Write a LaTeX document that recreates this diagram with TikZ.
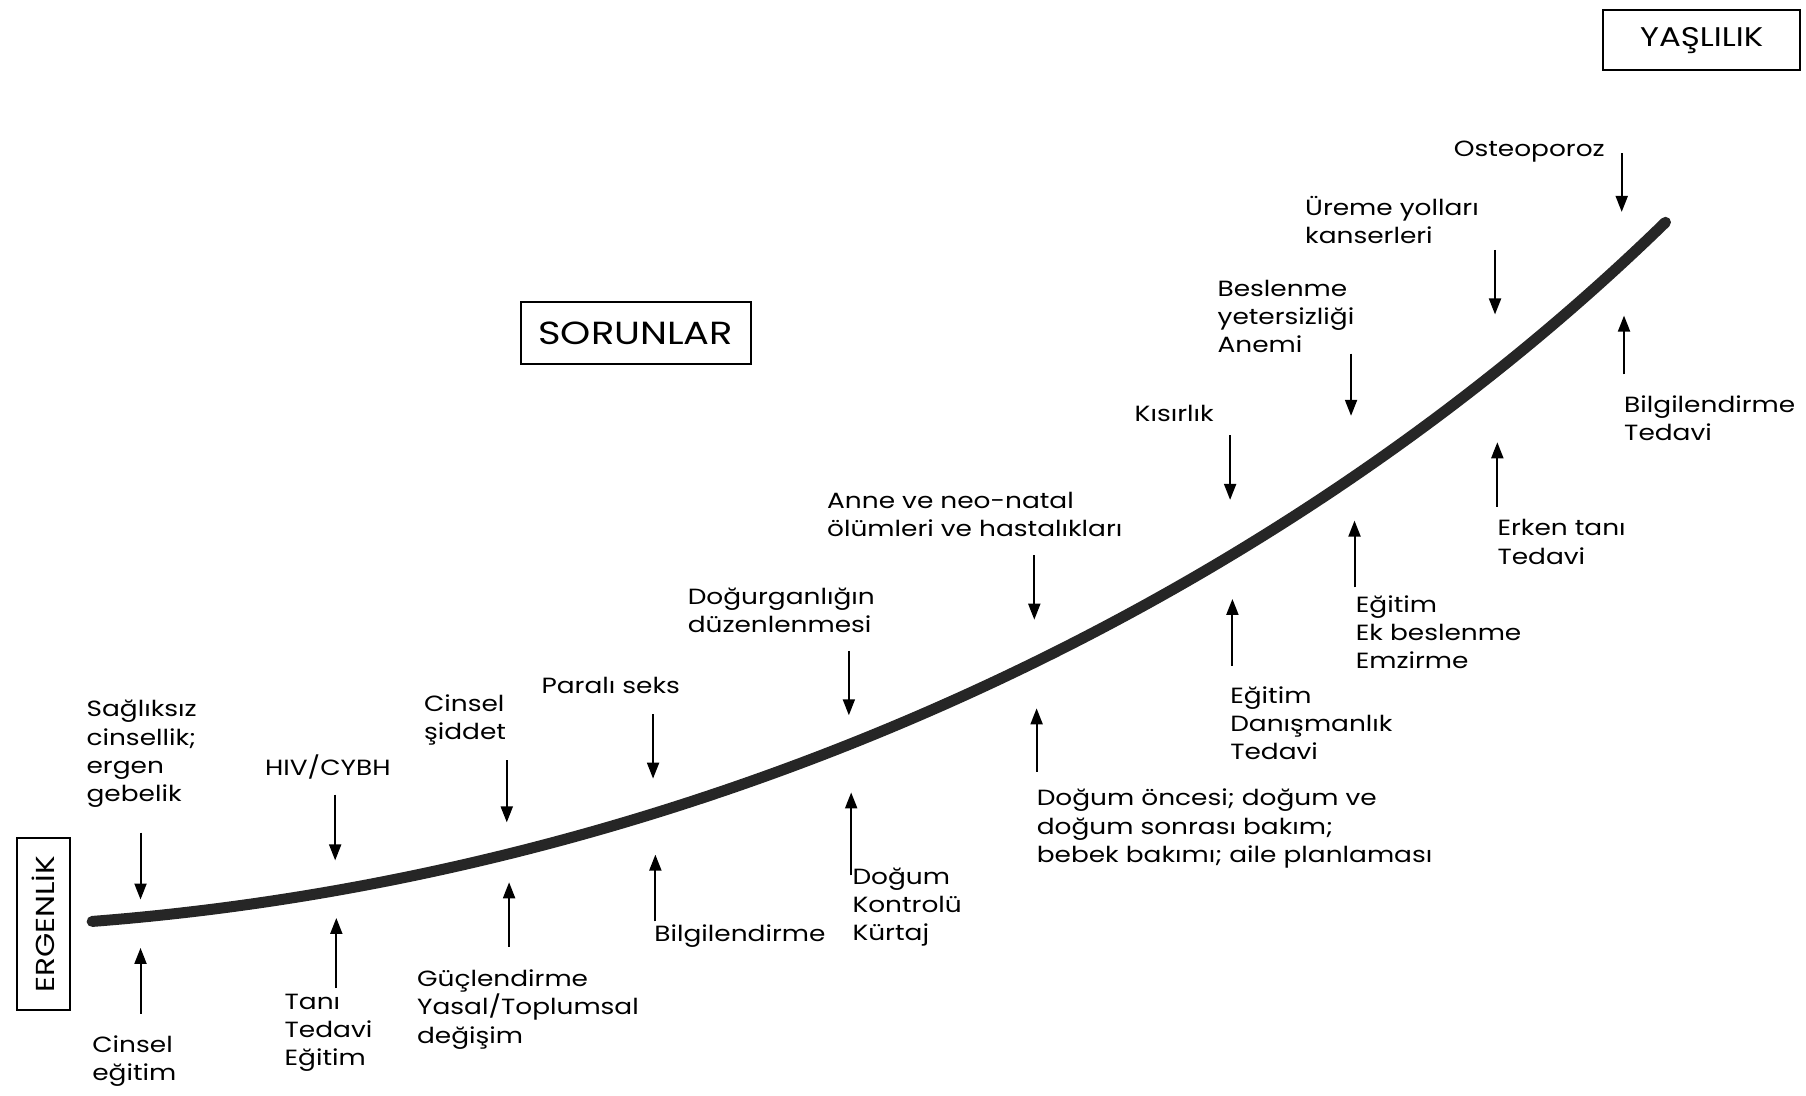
\documentclass[tikz,border=0pt]{standalone}
\usepackage{fontspec}
\setmainfont{Poppins}[FakeStretch=1.2]
\usetikzlibrary{arrows.meta}
\begin{document}
\begin{tikzpicture}[x=1.1518pt,y=-1.1518pt,
  lbl/.style={anchor=north west, inner sep=0pt, align=left, font=\fontsize{22}{28.2}\selectfont},
  arr/.style={line width=2pt, -{Triangle[length=16pt,width=12pt]}},
  boxed/.style={draw, line width=2pt, inner sep=0pt}]
\useasboundingbox (0,0) rectangle (1568,951);
\fill[white] (0,0) rectangle (1568,951);

% boxes
\node[boxed, minimum width=53pt, minimum height=172pt] (ergen) at (38,802.5) {};
\node[rotate=90, font=\fontsize{26}{26}\selectfont, inner sep=0pt] (ergenT) at (ergen.center) {ERGENLİK};
\node[boxed, minimum width=230pt, minimum height=62pt, font=\fontsize{32}{32}\selectfont] (sorun) at (552,289) {SORUNLAR};
\node[boxed, minimum width=197pt, minimum height=60pt, font=\fontsize{27}{27}\selectfont] (yasli) at (1477.5,35) {YAŞLILIK};

% curve
\draw[line width=11pt, black!85, line cap=round]
  (80,800) .. controls (600,760) and (1100,530) .. (1446,193);

% top labels (problems)
\node[lbl] (t1) at (75,608) {Sağlıksız\\cinsellik;\\ergen\\gebelik};
\node[lbl] (t2) at (230,655) {HIV/CYBH};
\node[lbl] (t3) at (368,603) {Cinsel\\şiddet};
\node[lbl] (t4) at (470,588) {Paralı seks};
\node[lbl] (t5) at (597,510) {Doğurganlığın\\düzenlenmesi};
\node[lbl] (t6) at (718,427) {Anne ve neo-natal\\ölümleri ve hastalıkları};
\node[lbl] (t7) at (985,352) {Kısırlık};
\node[lbl] (t8) at (1057,243) {Beslenme\\yetersizliği\\Anemi};
\node[lbl] (t9) at (1133,170) {Üreme yolları\\kanserleri};
\node[lbl] (t10) at (1262,122) {Osteoporoz};

% bottom labels (interventions)
\node[lbl] (b1) at (80,899) {Cinsel\\eğitim};
\node[lbl] (b2) at (247,863) {Tanı\\Tedavi\\Eğitim};
\node[lbl] (b3) at (362,842) {Güçlendirme\\Yasal/Toplumsal\\değişim};
\node[lbl] (b4) at (568,803) {Bilgilendirme};
\node[lbl] (b5) at (740,753) {Doğum\\Kontrolü\\Kürtaj};
\node[lbl] (b6) at (900,685) {Doğum öncesi; doğum ve\\doğum sonrası bakım;\\bebek bakımı; aile planlaması};
\node[lbl] (b7) at (1068,596) {Eğitim\\Danışmanlık\\Tedavi};
\node[lbl] (b8) at (1177,517) {Eğitim\\Ek beslenme\\Emzirme};
\node[lbl] (b9) at (1300,451) {Erken tanı\\Tedavi};
\node[lbl] (b10) at (1410,343) {Bilgilendirme\\Tedavi};

% arrow end points
\coordinate (ts1) at (122,723); \coordinate (te1) at (122,781);
\coordinate (ts2) at (291,690); \coordinate (te2) at (291,747);
\coordinate (ts3) at (440,660); \coordinate (te3) at (440,714);
\coordinate (ts4) at (567,620); \coordinate (te4) at (567,676);
\coordinate (ts5) at (737,565); \coordinate (te5) at (737,621);
\coordinate (ts6) at (898,482); \coordinate (te6) at (898,538);
\coordinate (ts7) at (1068,378); \coordinate (te7) at (1068,434);
\coordinate (ts8) at (1173,307); \coordinate (te8) at (1173,361);
\coordinate (ts9) at (1298,217); \coordinate (te9) at (1298,273);
\coordinate (ts10) at (1408,133); \coordinate (te10) at (1408,184);

\coordinate (bs1) at (122,880); \coordinate (be1) at (122,823);
\coordinate (bs2) at (292,858); \coordinate (be2) at (292,797);
\coordinate (bs3) at (442,822); \coordinate (be3) at (442,766);
\coordinate (bs4) at (569,800); \coordinate (be4) at (569,742);
\coordinate (bs5) at (739,760); \coordinate (be5) at (739,688);
\coordinate (bs6) at (900,670); \coordinate (be6) at (900,615);
\coordinate (bs7) at (1070,578); \coordinate (be7) at (1070,520);
\coordinate (bs8) at (1176,510); \coordinate (be8) at (1176,452);
\coordinate (bs9) at (1300,440); \coordinate (be9) at (1300,384);
\coordinate (bs10) at (1410,325); \coordinate (be10) at (1410,274);

\foreach \i in {1,...,10} {
  \draw[arr] (ts\i) -- (te\i);
  \draw[arr] (bs\i) -- (be\i);
}
\end{tikzpicture}
\end{document}
